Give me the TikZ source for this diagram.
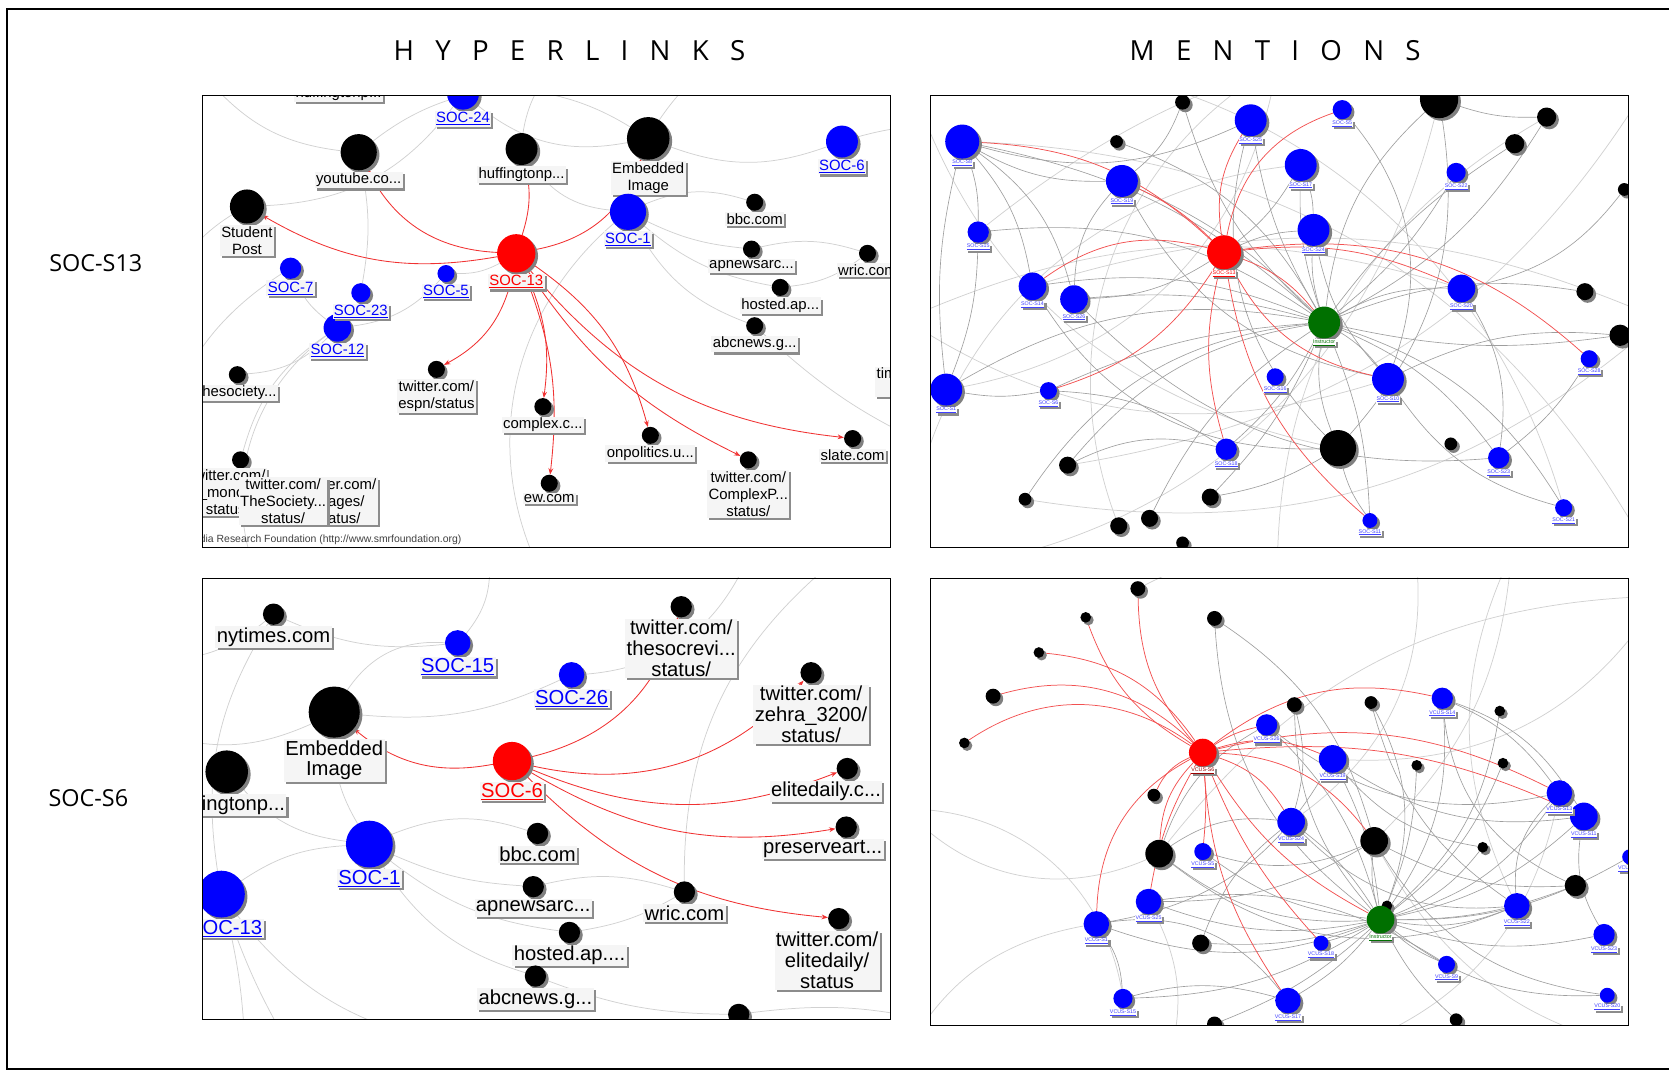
\documentclass[tikz,border=0pt]{standalone}
\usepackage{fontspec}
\newfontfamily\headfont{Open Sans}
\newfontfamily\tagfont{Liberation Sans}
\usetikzlibrary{positioning,shadows,arrows.meta}
\pgfdeclarelayer{edges}
\pgfsetlayers{edges,main}

\definecolor{tutorgreen}{RGB}{0,112,0}
\definecolor{linkred}{RGB}{240,50,50}

\newcommand\soc[1]{\underline{#1}}
\newcommand\gap{\hspace{20pt}}

\tikzset{
  vtx/.style={circle, inner sep=0pt, minimum size=#1,
    drop shadow={shadow xshift=2.5pt, shadow yshift=-2.5pt, fill=black!50, opacity=1}},
  site/.style={vtx=#1, fill=black},
  pupil/.style={vtx=#1, fill=blue},
  focus/.style={vtx=#1, fill=red},
  tutor/.style={vtx=#1, fill=tutorgreen},
  tagbox/.style={fill=gray!8, inner sep=1.3pt, align=center,
    drop shadow={shadow xshift=2pt, shadow yshift=-2pt, fill=black!45, opacity=1}},
  tagS/.style={tagbox, font=\tagfont\fontsize{14}{16}\selectfont},
  tagB/.style={tagbox, font=\tagfont\fontsize{19}{19.5}\selectfont},
  tagM/.style={tagbox, fill=white, inner sep=0.5pt, text=blue!75,
    font=\tagfont\fontsize{5}{5}\selectfont},
  hlink/.style={linkred, line width=0.8pt, -{Stealth[length=6pt,width=4.5pt]}},
  mlink/.style={linkred!85, line width=0.7pt},
  faintarc/.style={black!18, line width=0.7pt},
  grayedge/.style={black!38, line width=0.6pt},
  panelbox/.style={draw=black, line width=0.9pt},
  headtxt/.style={font=\headfont\fontsize{26}{26}\selectfont},
  rowtxt/.style={font=\headfont\fontsize{22}{22}\selectfont},
}

\begin{document}
\begin{tikzpicture}[x=1pt,y=-1pt]
\useasboundingbox (0,0) rectangle (1568,1006);

% outer frame, open on the right
\draw[line width=2pt] (1575,8.5) -| (6.5,1004.3) -- (1575,1004.3);

% column and row headings
\node[headtxt] (hyper) at (535,48) {H\gap Y\gap P\gap E\gap R\gap L\gap I\gap N\gap K\gap S};
\node[headtxt] (ment) at (1198,48) {M\gap E\gap N\gap T\gap I\gap O\gap N\gap S};
\node[rowtxt] (row13) at (90,247) {SOC-S13};
\node[rowtxt] (row6) at (83,750) {SOC-S6};

% ================= hyperlinks, SOC-S13 =================
\begin{scope}
\clip (190,90) rectangle (837,514);
\node[site=30] (hfa) at (318,64) {};
\node[tagS, below=1pt of hfa] (hfa-t) {huffingtonp...};
\node[pupil=30] (s24) at (435,88) {};
\node[tagS, text=blue, below=1pt of s24] (s24-t) {\soc{SOC-24}};
\node[site=34] (yt) at (337,143) {};
\node[tagS, below=1pt of yt] (yt-t) {youtube.co...};
\node[site=30] (hp) at (490,140) {};
\node[tagS, below=1pt of hp] (hp-t) {huffingtonp...};
\node[site=40] (emb) at (609,130) {};
\node[tagS, below=1pt of emb] (emb-t) {Embedded\\Image};
\node[pupil=30] (s6) at (791,133) {};
\node[tagS, text=blue, below=1pt of s6] (s6-t) {\soc{SOC-6}};
\node[site=32] (sp) at (232,194) {};
\node[tagS, below=1pt of sp] (sp-t) {Student\\Post};
\node[pupil=34] (s1) at (590,199) {};
\node[tagS, text=blue, below=1pt of s1] (s1-t) {\soc{SOC-1}};
\node[site=16] (bbc) at (709,190) {};
\node[tagS, below=1pt of bbc] (bbc-t) {bbc.com};
\node[pupil=20] (s7) at (273,252) {};
\node[tagS, text=blue, below=1pt of s7] (s7-t) {\soc{SOC-7}};
\node[pupil=16] (s5) at (419,257) {};
\node[tagS, text=blue, below=1pt of s5] (s5-t) {\soc{SOC-5}};
\node[pupil=18] (s23) at (339,275) {};
\node[pupil=26] (s12) at (317,308) {};
\node[tagS, text=blue, below=1pt of s23] (s23-t) {\soc{SOC-23}};
\node[tagS, text=blue, below=1pt of s12] (s12-t) {\soc{SOC-12}};
\node[site=16] (apn) at (706,234) {};
\node[tagS, below=1pt of apn] (apn-t) {apnewsarc...};
\node[site=16] (wric) at (815,238) {};
\node[tagS, below=1pt of wric] (wric-t) {wric.com};
\node[site=16] (hap) at (733,270) {};
\node[tagS, below=1pt of hap] (hap-t) {hosted.ap...};
\node[site=16] (abc) at (709,306) {};
\node[tagS, below=1pt of abc] (abc-t) {abcnews.g...};
\node[site=16] (tsoc) at (223,352) {};
\node[tagS, below=1pt of tsoc] (tsoc-t) {thesociety...};
\node[site=16] (esp) at (410,347) {};
\node[tagS, below=1pt of esp] (esp-t) {twitter.com/\\espn/status};
\node[site=16] (cpx) at (510,382) {};
\node[tagS, below=1pt of cpx] (cpx-t) {complex.c...};
\node[site=16] (onp) at (611,409) {};
\node[tagS, below=1pt of onp] (onp-t) {onpolitics.u...};
\node[site=16] (slt) at (801,412) {};
\node[tagS, below=1pt of slt] (slt-t) {slate.com};
\node[site=16] (cxp) at (703,432) {};
\node[tagS, below=1pt of cxp] (cxp-t) {twitter.com/\\ComplexP...\\status/};
\node[site=16] (eww) at (516,454) {};
\node[tagS, below=1pt of eww] (eww-t) {ew.com};
\node[site=16] (tim) at (854,335) {};
\node[tagS, below=1pt of tim] (tim-t) {time.com/\\tech/};
% crowded corner
\node[site=16] (tsb) at (226,432) {};
\node[tagS] (mono-t) at (214,462) {twitter.com/\\\_mono...\\status/};
\node[tagS] (img-t) at (318,471) {twitter.com/\\images/\\status/};
\node[tagS] (tsb-t) at (266,471) {twitter.com/\\TheSociety...\\status/};
\node[anchor=east, text=black!75, font=\tagfont\fontsize{9.8}{10}\selectfont] (credit)
  at (437,507) {Social Media Research Foundation (http://www.smrfoundation.org)};
\node[focus=36] (s13) at (485,238) {};
\node[tagS, text=red, below=1pt of s13] (s13-t) {\soc{SOC-13}};
\end{scope}

\begin{pgfonlayer}{edges}
\begin{scope}
\clip (190,90) rectangle (837,514);
\coordinate (e1) at (900,120);
\coordinate (e2) at (900,430);
\coordinate (e3) at (150,330);
\coordinate (e4) at (200,80);
\coordinate (e5) at (250,560);
\coordinate (e6) at (520,560);
\coordinate (e7) at (560,40);
\coordinate (e8) at (720,40);
\coordinate (e9) at (150,480);
\draw[faintarc] (sp) to[bend right=25] (s24);
\draw[faintarc] (s24) to[bend right=25] (emb);
\draw[faintarc] (emb) to[bend right=20] (s6);
\draw[faintarc] (s6) to[bend left=10] (e1);
\draw[faintarc] (s1) to[bend left=20] (bbc);
\draw[faintarc] (s1) to[bend right=10] (apn);
\draw[faintarc] (s1) to[bend right=15] (hap);
\draw[faintarc] (s1) to[bend right=20] (abc);
\draw[faintarc] (apn) to[bend left=15] (wric);
\draw[faintarc] (hap) to[bend right=15] (wric);
\draw[faintarc] (abc) to[bend right=10] (e2);
\draw[faintarc] (yt) to[bend left=10] (s23);
\draw[faintarc] (s12) to[bend left=20] (tsoc);
\draw[faintarc] (s12) to[bend right=20] (tsb);
\draw[faintarc] (s5) to[bend left=20] (s12);
\draw[faintarc] (s7) to[bend right=15] (s12);
\draw[faintarc] (sp) to[bend right=30] (e3);
\draw[faintarc] (e4) to[bend right=20] (yt);
\draw[faintarc] (e5) to[bend left=40] (s12);
\draw[faintarc] (s1) to[bend right=40] (e6);
\draw[faintarc] (hp) to[bend left=30] (e7);
\draw[faintarc] (emb) to[bend left=20] (e8);
\draw[faintarc] (hp) to[bend right=25] (s1);
\draw[faintarc] (yt) to[bend left=35] (emb);
\draw[faintarc] (e9) to[bend left=30] (s7);
\draw[faintarc] (s13) to[bend left=15] (s5);
% red links out of SOC-13
\draw[hlink] (s13) to[bend left=20] (sp);
\draw[hlink] (s13) to[bend left=30] (yt);
\draw[hlink] (s13) to[bend right=15] (hp);
\draw[hlink] (s13) to[bend right=30] (emb);
\draw[hlink] (s13) to[bend left=25] (esp);
\draw[hlink] (s13) to[bend left=16] (cpx);
\draw[hlink] (s13) to[bend left=14] (eww);
\draw[hlink] (s13) to[bend left=20] (onp);
\draw[hlink] (s13) to[bend right=15] (cxp);
\draw[hlink] (s13) to[bend right=22] (slt);
\end{scope}
\end{pgfonlayer}
\draw[panelbox] (190,90) rectangle (837,514);

% ================= hyperlinks, SOC-S6 =================
\begin{scope}
\clip (190,543) rectangle (837,958);
\node[site=20] (nyt) at (257,577) {};
\node[tagB, below=1pt of nyt] (nyt-t) {nytimes.com};
\node[pupil=24] (b15) at (430,604) {};
\node[tagB, text=blue, below=1pt of b15] (b15-t) {\soc{SOC-15}};
\node[pupil=24] (b26) at (537,634) {};
\node[tagB, text=blue, below=1pt of b26] (b26-t) {\soc{SOC-26}};
\node[site=20] (tsr) at (640,570) {};
\node[tagB, below=1pt of tsr] (tsr-t) {twitter.com/\\thesocrevi...\\status/};
\node[site=20] (zeh) at (762,632) {};
\node[tagB, below=1pt of zeh] (zeh-t) {twitter.com/\\zehra\_3200/\\status/};
\node[site=48] (emb2) at (314,669) {};
\node[tagB, below=1pt of emb2] (emb2-t) {Embedded\\Image};
\node[site=40] (huf2) at (213,725) {};
\node[tagB, below=1pt of huf2] (huf2-t) {huffingtonp...};
\node[site=20] (eld) at (796,722) {};
\node[tagB, below=1pt of eld, xshift=-20pt] (eld-t) {elitedaily.c...};
\node[site=20] (pre) at (795,777) {};
\node[tagB, below=1pt of pre, xshift=-22pt] (pre-t) {preserveart...};
\node[site=20] (bbc2) at (505,783) {};
\node[tagB, below=1pt of bbc2] (bbc2-t) {bbc.com};
\node[pupil=44] (b1) at (347,793) {};
\node[tagB, text=blue, below=1pt of b1] (b1-t) {\soc{SOC-1}};
\node[pupil=44] (b13) at (208,840) {};
\node[tagB, text=blue, below=1pt of b13, xshift=4pt] (b13-t) {\soc{SOC-13}};
\node[site=20] (apn2) at (501,833) {};
\node[tagB, below=1pt of apn2] (apn2-t) {apnewsarc...};
\node[site=20] (wri2) at (643,838) {};
\node[tagB, below=1pt of wri2] (wri2-t) {wric.com};
\node[site=20] (ted) at (788,863) {};
\node[tagB, below=1pt of ted, xshift=-11pt] (ted-t) {twitter.com/\\elitedaily/\\status};
\node[site=20] (hap2) at (535,876) {};
\node[tagB, below=1pt of hap2] (hap2-t) {hosted.ap....};
\node[site=20] (abc2) at (503,917) {};
\node[tagB, below=1pt of abc2] (abc2-t) {abcnews.g...};
\node[site=20] (low) at (694,953) {};
\node[focus=36] (c6) at (481,715) {};
\node[tagB, text=red, below=1pt of c6] (c6-t) {\soc{SOC-6}};
\end{scope}

\begin{pgfonlayer}{edges}
\begin{scope}
\clip (190,543) rectangle (837,958);
\coordinate (f1) at (150,690);
\coordinate (f2) at (140,620);
\coordinate (f3) at (460,530);
\coordinate (f4) at (700,530);
\coordinate (f5) at (230,980);
\coordinate (f6) at (270,980);
\coordinate (f7) at (420,980);
\coordinate (f8) at (780,530);
\coordinate (f9) at (880,960);
\draw[faintarc] (emb2) to[bend left=30] (b15);
\draw[faintarc] (emb2) to[bend left=20] (f1);
\draw[faintarc] (nyt) to[bend left=20] (f2);
\draw[faintarc] (nyt) to[bend right=15] (b15);
\draw[faintarc] (b15) to[bend right=20] (f3);
\draw[faintarc] (b26) to[bend right=30] (f4);
\draw[faintarc] (emb2) to[bend right=15] (b26);
\draw[faintarc] (b1) to[bend left=20] (bbc2);
\draw[faintarc] (b1) to[bend right=10] (apn2);
\draw[faintarc] (b1) to[bend right=15] (hap2);
\draw[faintarc] (b1) to[bend right=20] (abc2);
\draw[faintarc] (apn2) to[bend left=15] (wri2);
\draw[faintarc] (hap2) to[bend right=10] (wri2);
\draw[faintarc] (b13) to[bend left=15] (b1);
\draw[faintarc] (b13) to[bend left=5] (f5);
\draw[faintarc] (b13) to[bend right=5] (f6);
\draw[faintarc] (b13) to[bend right=20] (f7);
\draw[faintarc] (b1) to[bend left=15] (emb2);
\draw[faintarc] (abc2) to[bend right=10] (low);
\draw[faintarc] (huf2) to[bend right=20] (b1);
\draw[faintarc] (wri2) to[bend left=25] (f8);
\draw[faintarc] (low) to[bend left=10] (f9);
\draw[faintarc] (nyt) to[bend right=20] (b13);
% red links out of SOC-6
\draw[hlink] (c6) to[bend left=25] (emb2);
\draw[hlink] (c6) to[bend right=30] (tsr);
\draw[hlink] (c6) to[bend right=30] (zeh);
\draw[hlink] (c6) to[bend right=22] (eld);
\draw[hlink] (c6) to[bend right=20] (pre);
\draw[hlink] (c6) to[bend right=20] (ted);
\end{scope}
\end{pgfonlayer}
\draw[panelbox] (190,543) rectangle (837,958);

% ================= mentions, SOC-S13 =================
\begin{scope}
\clip (874,90) rectangle (1530,514);
\foreach \n/\x/\y/\d/\c in {a1/904/133/32/blue, a2/1049/133/12/black, a3/1175/113/30/blue,
  a4/1261/103/18/blue, a5/1111/96/14/black, a6/1352/93/36/black, a7/1453/110/18/black,
  a8/1423/135/18/black, a9/1054/170/30/blue, a10/1222/155/30/blue, a11/1368/162/18/blue,
  a12/1526/178/12/black, a13/919/218/20/blue, a14/1234/216/30/blue, a15/970/269/26/blue,
  a16/1009/281/26/blue, a17/1373/271/26/blue, a18/1489/274/16/black, a19/1522/315/20/black,
  a20/1493/337/16/blue, a21/889/366/30/blue, a22/985/367/16/blue, a23/1198/354/16/blue,
  a24/1304/356/30/blue, a25/1257/421/34/black, a26/1363/417/12/black, a27/1152/422/20/blue,
  a28/1408/430/20/blue, a29/1003/437/16/black, a30/1137/467/16/black, a31/963/469/12/black,
  a32/1469/477/16/blue, a33/1080/487/16/black, a34/1051/494/16/black, a35/1287/489/14/blue,
  a36/1111/510/12/black}
  \node[vtx=\d, fill=\c] (\n) at (\x,\y) {};
\foreach \n/\t in {a1/SOC-S8, a3/SOC-S25, a4/SOC-S5, a9/SOC-S19, a10/SOC-S17, a11/SOC-S22,
  a13/SOC-S15, a14/SOC-S24, a15/SOC-S14, a16/SOC-S26, a17/SOC-S20, a20/SOC-S28, a21/SOC-S1,
  a22/SOC-S6, a23/SOC-S16, a24/SOC-S10, a27/SOC-S18, a28/SOC-S23, a32/SOC-S21, a35/SOC-S11}
  \node[tagM, below=0.5pt of \n] (\n-t) {\soc{\t}};
\node[focus=32] (hubA) at (1150,237) {};
\node[tagM, text=red, below=0.5pt of hubA] (hubA-t) {\soc{SOC-S13}};
\node[tutor=30] (insA) at (1244,303) {};
\node[tagM, text=tutorgreen, below=0.5pt of insA] (insA-t) {\soc{Instructor}};
\end{scope}

\begin{pgfonlayer}{edges}
\begin{scope}
\clip (874,90) rectangle (1530,514);
\coordinate (oa1) at (850,60);
\coordinate (oa2) at (1560,60);
\coordinate (oa3) at (1560,540);
\coordinate (oa4) at (850,540);
\coordinate (oa5) at (1200,60);
\coordinate (oa6) at (1200,540);
\coordinate (oa7) at (850,300);
\coordinate (oa8) at (1560,300);
\foreach \a/\b/\k in {oa1/a25/-30, oa7/a24/-25, oa4/a10/40, oa5/a21/35, oa2/a29/25,
  oa8/a15/-20, oa3/a1/-30, oa6/a7/30, oa7/a17/20, oa4/a6/-35, oa1/a32/40, oa5/a34/-40,
  oa8/a31/25, oa2/a13/-25}
  \draw[faintarc] (\a) to[bend left=\k] (\b);
\foreach \b/\k in {a1/-15, a3/10, a9/-10, a10/10, a13/-20, a14/10, a15/-15, a16/-10,
  a17/15, a21/-20, a22/-10, a24/10, a25/-15, a27/10, a28/15, a32/20, a7/-15, a8/10,
  a19/-10, a35/10, a29/-20, a31/-25, a18/15, a11/-10, a6/20, a2/-20, a5/15, a30/10, a33/-15}
  \draw[grayedge] (insA) to[bend left=\k] (\b);
\foreach \a/\b/\k in {a1/a13/10, a1/a15/15, a1/a21/-10, a1/a9/-15, a1/a16/20, a13/a21/10,
  a9/a16/-20, a6/a25/25, a6/a7/-10, a10/a14/10, a14/a24/-15, a17/a28/20, a24/a32/-20,
  a21/a22/-10, a22/a27/15, a25/a30/10, a25/a35/-10, a27/a29/-20, hubA/a16/15, hubA/a10/-10,
  hubA/a14/10, a3/a25/-30, a4/a24/30, a9/a24/-25, a16/a28/-25, a15/a25/-30, a1/a3/-20,
  a5/a9/15, a12/a17/20, a19/a24/-15, a20/a28/10}
  \draw[grayedge] (\a) to[bend left=\k] (\b);
% red mentions out of SOC-S13
\foreach \b/\k in {a1/-20, a9/-10, a3/20, a4/30, a15/-25, a22/20, insA/15, a24/-25,
  a27/-15, a35/-20, a17/15, a20/25}
  \draw[mlink] (hubA) to[bend left=\k] (\b);
\end{scope}
\end{pgfonlayer}
\draw[panelbox] (874,90) rectangle (1530,514);

% ================= mentions, SOC-S6 =================
\begin{scope}
\clip (874,543) rectangle (1530,963);
\foreach \n/\x/\y/\d/\c in {b1/1069/553/14/black, b2/1020/580/10/black, b3/1141/581/14/black,
  b4/976/613/10/black, b5/933/654/14/black, b6/906/698/10/black, b7/1355/656/20/blue,
  b8/1216/662/14/black, b9/1288/660/12/black, b10/1409/668/10/black, b11/1190/681/20/blue,
  b12/1252/713/26/blue, b13/1331/719/10/black, b14/1412/717/10/black, b15/1084/747/12/black,
  b16/1465/745/24/blue, b17/1488/767/26/blue, b18/1213/772/26/blue, b19/1291/790/26/black,
  b20/1130/800/16/blue, b21/1089/802/26/black, b22/1393/796/10/black, b23/1480/832/20/black,
  b24/1531/805/14/blue, b25/1079/847/24/blue, b26/1425/851/24/blue, b27/1303/851/10/black,
  b28/1030/868/24/blue, b29/1128/886/16/black, b30/1241/886/14/blue, b31/1507/878/20/blue,
  b32/1359/906/16/blue, b33/1055/938/18/blue, b34/1210/940/24/blue, b35/1510/935/14/blue,
  b36/1141/962/14/black, b37/1368/958/12/black}
  \node[vtx=\d, fill=\c] (\n) at (\x,\y) {};
\foreach \n/\t in {b7/VCUS-S14, b11/VCUS-S26, b12/VCUS-S19, b16/VCUS-S13, b17/VCUS-S11,
  b18/VCUS-S24, b20/VCUS-S5, b24/VCUS-S3, b25/VCUS-S25, b26/VCUS-S22, b28/VCUS-S1,
  b30/VCUS-S18, b31/VCUS-S23, b32/VCUS-S9, b33/VCUS-S15, b34/VCUS-S17, b35/VCUS-S20}
  \node[tagM, below=0.5pt of \n] (\n-t) {\soc{\t}};
\node[focus=26] (hubB) at (1130,707) {};
\node[tagM, text=red!60!black, below=0.5pt of hubB] (hubB-t) {\soc{VCUS-S6}};
\node[tutor=26] (insB) at (1297,864) {};
\node[tagM, text=tutorgreen, below=0.5pt of insB] (insB-t) {\soc{Instructor}};
\end{scope}

\begin{pgfonlayer}{edges}
\begin{scope}
\clip (874,543) rectangle (1530,963);
\coordinate (ob1) at (850,760);
\coordinate (ob2) at (1100,990);
\coordinate (ob3) at (1560,560);
\coordinate (ob4) at (1560,990);
\coordinate (ob5) at (1330,520);
\coordinate (ob6) at (1420,520);
\coordinate (ob7) at (850,990);
\coordinate (ob8) at (1250,990);
\foreach \a/\b/\k in {ob1/b21/-35, ob7/b28/25, ob2/b25/-20, ob5/b18/30, ob6/b26/-25,
  ob3/b12/30, ob4/b19/25, ob8/b16/-30, ob1/b33/40, ob3/b21/-25, ob5/b1/-20, ob6/b19/20}
  \draw[faintarc] (\a) to[bend left=\k] (\b);
\foreach \b/\k in {b11/-15, b12/-10, b18/-10, b19/10, b20/15, b21/20, b25/15, b26/-15,
  b28/20, b29/10, b30/5, b31/-15, b32/-10, b33/15, b34/10, b35/-20, b16/-20, b17/-15,
  b9/-25, b23/-10, b3/25, b7/-20, b10/-20, b22/-15, b13/-10, b27/5, b24/-15, b8/20, b14/-15,
  b36/10, b37/-10}
  \draw[grayedge] (insB) to[bend left=\k] (\b);
\foreach \a/\b/\k in {b7/b16/15, b7/b17/20, b16/b26/-25, b17/b31/-20, b11/b16/-25,
  b12/b17/-20, b18/b26/-25, b19/b23/-15, b21/b26/-30, b25/b32/20, b28/b34/30, b28/b33/15,
  b20/b19/-20, b3/b19/20, b8/b18/15, b9/b26/-20, b18/b29/-15, b33/b34/15, b12/b22/-20,
  b19/b35/-25, b21/b18/20, b11/b21/-20, b25/b19/-15, b7/b23/-30, b12/b28/25}
  \draw[grayedge] (\a) to[bend left=\k] (\b);
% red mentions out of VCUS-S6
\foreach \b/\k in {b1/20, b2/20, b4/-25, b5/-30, b6/-35, b11/10, b7/25, b12/20, b16/20,
  b15/-20, b21/-20, b25/-10, b28/-30, b18/20, b19/25, insB/-15, b30/-10, b34/-15, b20/5, b17/15}
  \draw[mlink] (hubB) to[bend left=\k] (\b);
\end{scope}
\end{pgfonlayer}
\draw[panelbox] (874,543) rectangle (1530,963);

\end{tikzpicture}
\end{document}
